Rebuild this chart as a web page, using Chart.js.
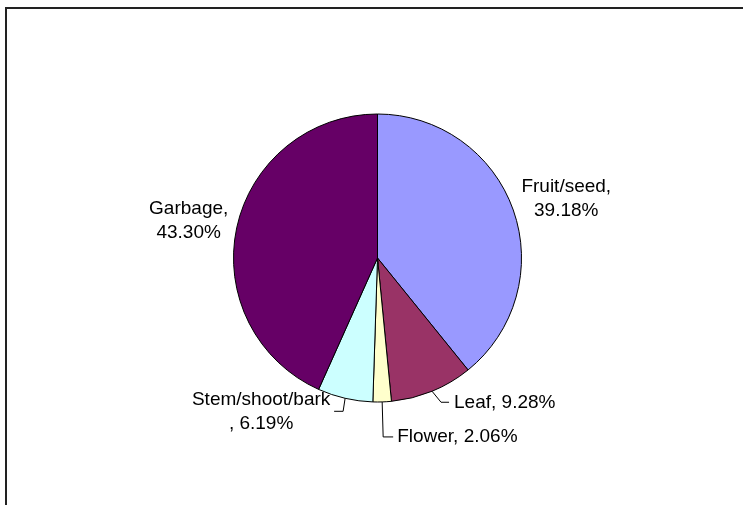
<!DOCTYPE html>
<html>
<head>
<meta charset="utf-8">
<script src="https://cdn.jsdelivr.net/npm/chart.js@4"></script>
<style>
  html, body { margin: 0; padding: 0; background: #fff; }
  #wrap { width: 743px; height: 505px; }
</style>
</head>
<body>
<div id="wrap"><canvas id="canvas"></canvas></div>
<script>
// data
var categories = ['Fruit/seed', 'Leaf', 'Flower', 'Stem/shoot/bark', 'Garbage'];
var shares = [39.18, 9.28, 2.06, 6.19, 43.30];
var sliceColors = ['#9999FF', '#993366', '#FFFFCC', '#CCFFFF', '#660066'];

// label layout, offsets from the slice's outer edge at mid-angle
var labelLayout = [
  { text: [categories[0] + ',', shares[0].toFixed(2) + '%'], at: [53, -11], align: 'center' },
  { text: [categories[1] + ', ' + shares[1].toFixed(2) + '%'], leader: [[9, 11], [17, 11]], at: [22, 12], align: 'left' },
  { text: [categories[2] + ', ' + shares[2].toFixed(2) + '%'], leader: [[1, 35], [11, 35]], at: [15, 35], align: 'left' },
  { text: [categories[3], ', ' + shares[3].toFixed(2) + '%'], leader: [[-2, 13], [-11, 13]], at: [-84, 13], align: 'center' },
  { text: [categories[4] + ',', shares[4].toFixed(2) + '%'], at: [-48, -7], align: 'center' }
];

var framePlugin = {
  id: 'frame',
  beforeDraw: function(chart) {
    var ctx = chart.ctx;
    ctx.save();
    ctx.strokeStyle = '#222';
    ctx.lineWidth = 2;
    ctx.beginPath();
    ctx.moveTo(6, 505);
    ctx.lineTo(6, 8);
    ctx.lineTo(743, 8);
    ctx.stroke();
    ctx.restore();
  }
};

var labelPlugin = {
  id: 'sliceLabels',
  afterDraw: function(chart) {
    var ctx = chart.ctx;
    var arcs = chart.getDatasetMeta(0).data;
    ctx.save();
    ctx.font = '19px "Liberation Sans", Arial, sans-serif';
    ctx.fillStyle = '#000';
    ctx.strokeStyle = '#000';
    ctx.lineWidth = 1;
    ctx.textBaseline = 'middle';
    arcs.forEach(function(arc, i) {
      var p = arc.getProps(['x', 'y', 'startAngle', 'endAngle', 'outerRadius'], true);
      var mid = (p.startAngle + p.endAngle) / 2;
      var ex = p.x + Math.cos(mid) * p.outerRadius;
      var ey = p.y + Math.sin(mid) * p.outerRadius;
      var lay = labelLayout[i];
      if (lay.leader) {
        ctx.beginPath();
        ctx.moveTo(ex, ey);
        lay.leader.forEach(function(pt) { ctx.lineTo(ex + pt[0], ey + pt[1]); });
        ctx.stroke();
      }
      ctx.textAlign = lay.align;
      var lh = 24;
      var y0 = ey + lay.at[1] - (lay.text.length - 1) * lh / 2;
      lay.text.forEach(function(t, k) {
        ctx.fillText(t, ex + lay.at[0], y0 + k * lh);
      });
    });
    ctx.restore();
  }
};

var ctx = document.getElementById('canvas').getContext('2d');
var chart = new Chart(ctx, {
  type: 'pie',
  data: {
    labels: categories,
    datasets: [{
      data: shares,
      backgroundColor: sliceColors,
      borderColor: '#000',
      borderWidth: 1
    }]
  },
  options: {
    responsive: true,
    maintainAspectRatio: false,
    animation: false,
    radius: 144,
    layout: { padding: { left: 21, right: 9, top: 18, bottom: 7 } },
    plugins: {
      legend: { display: false },
      tooltip: { enabled: false }
    }
  },
  plugins: [framePlugin, labelPlugin]
});
</script>
</body>
</html>
